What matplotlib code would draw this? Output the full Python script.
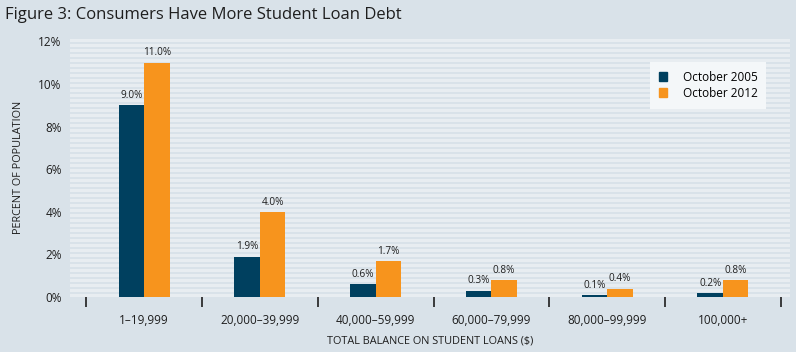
import matplotlib
matplotlib.use("Agg")
import matplotlib.pyplot as plt
import numpy as np
from matplotlib.patches import Patch

plt.rcParams['font.family'] = ['Open Sans', 'DejaVu Sans']

categories = ["1–19,999", "20,000–39,999", "40,000–59,999", "60,000–79,999", "80,000–99,999", "100,000+"]
oct_2005 = [9.0, 1.9, 0.6, 0.3, 0.1, 0.2]
oct_2012 = [11.0, 4.0, 1.7, 0.8, 0.4, 0.8]
series_names = ["October 2005", "October 2012"]
yticks = [0, 2, 4, 6, 8, 10, 12]

BG = "#d9e2e9"
STRIPE = "#e8edf1"
NAVY = "#00405f"
ORANGE = "#f7941d"
TXT = "#1e1e1e"

fig = plt.figure(figsize=(7.96, 3.52), dpi=100, facecolor=BG)
ax = fig.add_axes([0.088, 0.156, 0.9045, 0.739])
ax.set_facecolor(BG)

ymax = 12.2
# striped background
step = 12.0 / 255.5 * 5
y0 = 0.0
while y0 < ymax:
    ax.axhspan(y0, min(y0 + step * 0.6, ymax), color=STRIPE, lw=0, zorder=0)
    y0 += step

x = np.arange(len(categories))
w = 0.22
ax.bar(x - w / 2, oct_2005, width=w, color=NAVY, zorder=2, label=series_names[0])
ax.bar(x + w / 2, oct_2012, width=w, color=ORANGE, zorder=2, label=series_names[1])

for xi, v in zip(x - w / 2, oct_2005):
    ax.text(xi, v + 0.2, f"{v:.1f}%", ha="center", va="bottom", fontsize=7.2, color=TXT)
for xi, v in zip(x + w / 2, oct_2012):
    ax.text(xi, v + 0.2, f"{v:.1f}%", ha="center", va="bottom", fontsize=7.2, color=TXT)

ax.set_xlim(-0.64, 5.58)
ax.set_ylim(0, ymax)
ax.set_yticks(yticks)
ax.set_yticklabels([f"{t}%" for t in yticks], fontsize=8.5, color=TXT)
ax.tick_params(axis="y", length=0, pad=6)

ax.set_xticks(x)
ax.set_xticklabels(categories, fontsize=8.5, color=TXT)
ax.tick_params(axis="x", which="major", length=0, pad=12)
ax.set_xticks(np.arange(-0.5, len(categories), 1.0), minor=True)
ax.tick_params(axis="x", which="minor", length=7, width=1.2, color="#1e1e1e", direction="out", pad=0)

for s in ax.spines.values():
    s.set_visible(False)

ax.set_ylabel("PERCENT OF POPULATION", fontsize=7.8, color=TXT, labelpad=10)
ax.set_xlabel("TOTAL BALANCE ON STUDENT LOANS ($)", fontsize=7.8, color=TXT, labelpad=6)

ax.legend(handles=[Patch(color=NAVY), Patch(color=ORANGE)], labels=series_names,
          loc="upper right", bbox_to_anchor=(0.9755, 0.927), fontsize=8.5,
          frameon=True, fancybox=False, edgecolor="none", facecolor="#f4f7f9",
          framealpha=1, handlelength=0.7, handleheight=0.7, borderpad=0.75,
          labelspacing=0.25, handletextpad=1.3)

fig.text(0.006, 0.957, "Figure 3: Consumers Have More Student Loan Debt", fontsize=12,
         color=TXT, va="center", ha="left")

fig.savefig("out.png", dpi=100, facecolor=BG)
